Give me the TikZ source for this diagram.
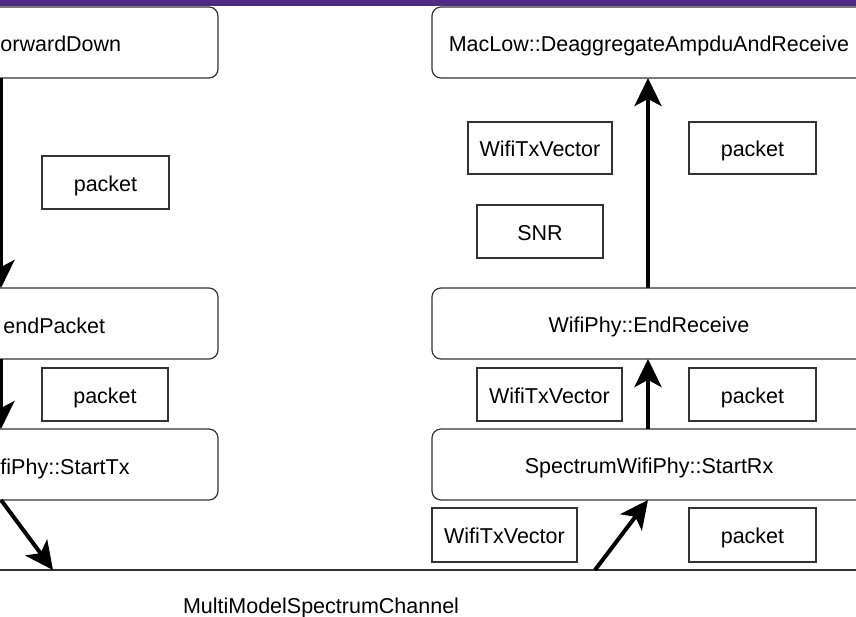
\documentclass[tikz,border=0pt]{standalone}
\usepackage{fontspec}
\setmainfont{Liberation Sans}
\usetikzlibrary{arrows.meta}
\definecolor{barpurple}{RGB}{78,42,132}
\definecolor{boxgray}{RGB}{51,51,51}
\begin{document}
\begin{tikzpicture}[x=1pt,y=-1pt,
  font=\fontsize{21.5}{24}\selectfont,
  fn/.style={draw=boxgray,line width=1.2pt,rounded corners=9pt,minimum width=434pt,minimum height=71pt,inner sep=0pt,outer sep=0pt,text height=17pt,text depth=0pt},
  lbl/.style={draw=boxgray,line width=1.2pt,inner sep=0pt,outer sep=0pt,text height=17pt,text depth=0pt},
  txt/.style={inner sep=0pt,outer sep=0pt},
  flow/.style={line width=4pt,-{Stealth[length=28pt,width=27pt,inset=7pt]}},
]
\useasboundingbox (0,0) rectangle (856,616);
\clip (0,0) rectangle (856,616);
\fill[barpurple] (0,0) rectangle (856,6);
% left column
\node[fn] (fwd) at (1,42.5) {};
\node[txt,anchor=base west] (fwdt) at (0.5,51) {orwardDown};
\node[fn] (send) at (1,323.5) {};
\node[txt,anchor=base east] (sendt) at (105,333) {endPacket};
\node[fn] (stx) at (1,464.5) {};
\node[txt,anchor=base west] (stxt) at (0.5,474) {fiPhy::StartTx};
\node[lbl,minimum width=127pt,minimum height=53pt] (p1) at (105.5,182.5) {packet};
\node[lbl,minimum width=126pt,minimum height=53pt] (p2) at (105,394.5) {packet};
% right column
\node[fn] (mac) at (649,42.5) {MacLow::DeaggregateAmpduAndReceive};
\node[fn] (endrx) at (649,323.5) {WifiPhy::EndReceive};
\node[fn] (srx) at (649,464.5) {SpectrumWifiPhy::StartRx};
\node[lbl,minimum width=144pt,minimum height=52pt] (v1) at (540,148) {WifiTxVector};
\node[lbl,minimum width=127pt,minimum height=52pt] (p3) at (752.5,148) {packet};
\node[lbl,minimum width=126pt,minimum height=53pt] (snr) at (540,231.5) {SNR};
\node[lbl,minimum width=145pt,minimum height=53pt] (v2) at (549.5,394.5) {WifiTxVector};
\node[lbl,minimum width=127pt,minimum height=53pt] (p4) at (752.5,394.5) {packet};
\node[lbl,minimum width=145pt,minimum height=54pt] (v3) at (504.5,535) {WifiTxVector};
\node[lbl,minimum width=127pt,minimum height=54pt] (p5) at (752.5,535) {packet};
% channel
\coordinate (chA) at (0,570);
\coordinate (chB) at (856,570);
\draw[line width=1.2pt,boxgray] (chA) -- (chB);
\node[txt,anchor=base west] (chan) at (183,613) {MultiModelSpectrumChannel};
\coordinate (chL) at (53,570);
\coordinate (chR) at (595,570);
% arrows
\draw[flow] (fwd.south) -- (send.north);
\draw[flow] (send.south) -- (stx.north);
\draw[flow] (stx.south) -- (chL);
\draw[flow] (chR) -- ([xshift=-1pt]srx.south);
\draw[flow] ([xshift=-1pt]srx.north) -- ([xshift=-1pt]endrx.south);
\draw[flow] ([xshift=-1pt]endrx.north) -- ([xshift=-1pt]mac.south);
\end{tikzpicture}
\end{document}
